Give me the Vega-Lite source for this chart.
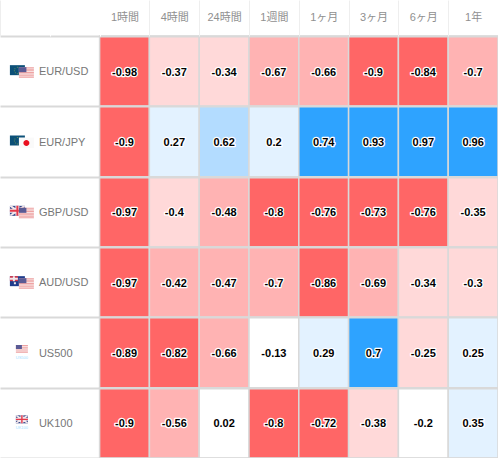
{
"$schema":"https://vega.github.io/schema/vega-lite/v6.json",
"width":498,"height":422,
"autosize":{"type":"none"},
"padding":{"top":36,"left":0,"right":0,"bottom":0},
"background":"white",
"config":{"view":{"stroke":null},"font":"Liberation Sans, Noto Sans CJK JP"},
"datasets":{
"cells":[
{"pair":"EUR/USD","col":"1時間","v":-0.98},{"pair":"EUR/USD","col":"4時間","v":-0.37},{"pair":"EUR/USD","col":"24時間","v":-0.34},{"pair":"EUR/USD","col":"1週間","v":-0.67},{"pair":"EUR/USD","col":"1ヶ月","v":-0.66},{"pair":"EUR/USD","col":"3ヶ月","v":-0.9},{"pair":"EUR/USD","col":"6ヶ月","v":-0.84},{"pair":"EUR/USD","col":"1年","v":-0.7},
{"pair":"EUR/JPY","col":"1時間","v":-0.9},{"pair":"EUR/JPY","col":"4時間","v":0.27},{"pair":"EUR/JPY","col":"24時間","v":0.62},{"pair":"EUR/JPY","col":"1週間","v":0.2},{"pair":"EUR/JPY","col":"1ヶ月","v":0.74},{"pair":"EUR/JPY","col":"3ヶ月","v":0.93},{"pair":"EUR/JPY","col":"6ヶ月","v":0.97},{"pair":"EUR/JPY","col":"1年","v":0.96},
{"pair":"GBP/USD","col":"1時間","v":-0.97},{"pair":"GBP/USD","col":"4時間","v":-0.4},{"pair":"GBP/USD","col":"24時間","v":-0.48},{"pair":"GBP/USD","col":"1週間","v":-0.8},{"pair":"GBP/USD","col":"1ヶ月","v":-0.76},{"pair":"GBP/USD","col":"3ヶ月","v":-0.73},{"pair":"GBP/USD","col":"6ヶ月","v":-0.76},{"pair":"GBP/USD","col":"1年","v":-0.35},
{"pair":"AUD/USD","col":"1時間","v":-0.97},{"pair":"AUD/USD","col":"4時間","v":-0.42},{"pair":"AUD/USD","col":"24時間","v":-0.47},{"pair":"AUD/USD","col":"1週間","v":-0.7},{"pair":"AUD/USD","col":"1ヶ月","v":-0.86},{"pair":"AUD/USD","col":"3ヶ月","v":-0.69},{"pair":"AUD/USD","col":"6ヶ月","v":-0.34},{"pair":"AUD/USD","col":"1年","v":-0.3},
{"pair":"US500","col":"1時間","v":-0.89},{"pair":"US500","col":"4時間","v":-0.82},{"pair":"US500","col":"24時間","v":-0.66},{"pair":"US500","col":"1週間","v":-0.13},{"pair":"US500","col":"1ヶ月","v":0.29},{"pair":"US500","col":"3ヶ月","v":0.7},{"pair":"US500","col":"6ヶ月","v":-0.25},{"pair":"US500","col":"1年","v":0.25},
{"pair":"UK100","col":"1時間","v":-0.9},{"pair":"UK100","col":"4時間","v":-0.56},{"pair":"UK100","col":"24時間","v":0.02},{"pair":"UK100","col":"1週間","v":-0.8},{"pair":"UK100","col":"1ヶ月","v":-0.72},{"pair":"UK100","col":"3ヶ月","v":-0.38},{"pair":"UK100","col":"6ヶ月","v":-0.2},{"pair":"UK100","col":"1年","v":0.35}
],
"labels":[{"pair":"EUR/USD","col":"a"},{"pair":"EUR/JPY","col":"a"},{"pair":"GBP/USD","col":"a"},{"pair":"AUD/USD","col":"a"},{"pair":"US500","col":"a"},{"pair":"UK100","col":"a"}],
"tiny":[{"pair":"US500","col":"a","t":"US500"},{"pair":"UK100","col":"a","t":"UK100"}],
"flags":[
{"pair":"EUR/USD","col":"a","part":"eu_bg"},{"pair":"EUR/USD","col":"a","part":"eu_st"},{"pair":"EUR/USD","col":"a","part":"us_w"},{"pair":"EUR/USD","col":"a","part":"us_r"},{"pair":"EUR/USD","col":"a","part":"us_c"},
{"pair":"EUR/JPY","col":"a","part":"eu_bg"},{"pair":"EUR/JPY","col":"a","part":"eu_st"},{"pair":"EUR/JPY","col":"a","part":"jp_w"},{"pair":"EUR/JPY","col":"a","part":"jp_r"},
{"pair":"GBP/USD","col":"a","part":"gb_b"},{"pair":"GBP/USD","col":"a","part":"gb_w"},{"pair":"GBP/USD","col":"a","part":"gb_r"},{"pair":"GBP/USD","col":"a","part":"us_w"},{"pair":"GBP/USD","col":"a","part":"us_r"},{"pair":"GBP/USD","col":"a","part":"us_c"},
{"pair":"AUD/USD","col":"a","part":"au_b"},{"pair":"AUD/USD","col":"a","part":"au_r"},{"pair":"AUD/USD","col":"a","part":"au_w"},{"pair":"AUD/USD","col":"a","part":"us_w"},{"pair":"AUD/USD","col":"a","part":"us_r"},{"pair":"AUD/USD","col":"a","part":"us_c"},
{"pair":"US500","col":"a","part":"uss_w"},{"pair":"US500","col":"a","part":"uss_r"},{"pair":"US500","col":"a","part":"uss_c"},
{"pair":"UK100","col":"a","part":"gbs_b"},{"pair":"UK100","col":"a","part":"gbs_w"},{"pair":"UK100","col":"a","part":"gbs_r"}
]
},
"encoding":{
"x":{"field":"col","type":"nominal","sort":null,
"scale":{"type":"band","domain":["a","b","1時間","4時間","24時間","1週間","1ヶ月","3ヶ月","6ヶ月","1年"],"paddingInner":0,"paddingOuter":0},
"axis":{"orient":"top","title":null,"domain":false,"tickBand":"extent","tickSize":36,"tickColor":{"condition":{"test":"datum.value=='a'||datum.value=='b'","value":"#ffffff"},"value":"#eeeeee"},"tickWidth":1,"labelPadding":-17,"labelAngle":0,"labelColor":"#909090","labelFontSize":11,"labelFont":"Liberation Sans, Noto Sans CJK JP","labelExpr":"datum.value=='a'||datum.value=='b'?'':datum.value","labelBaseline":"middle"}},
"y":{"field":"pair","type":"nominal","sort":null,
"scale":{"type":"band","domain":["EUR/USD","EUR/JPY","GBP/USD","AUD/USD","US500","UK100"],"paddingInner":0,"paddingOuter":0},
"axis":{"title":null,"domain":false,"ticks":false,"labels":false,"grid":true,"tickBand":"extent","gridColor":"#d9d9d9","gridWidth":2}}
},
"layer":[
{"data":{"name":"cells"},"mark":{"type":"rect","stroke":"#d9d9d9","strokeWidth":1.5},
"encoding":{"color":{"field":"v","type":"quantitative","legend":null,"scale":{"type":"threshold","domain":[-0.7,-0.4,-0.2,0.2,0.4,0.7],"range":["#ff6666","#ffb3b3","#ffd9d9","#ffffff","#e3f2ff","#b3dcff","#2ea3ff"]}}}},
{"data":{"name":"cells"},"mark":{"type":"text","font":"Liberation Sans","fontSize":11,"fontWeight":"bold","stroke":"white","strokeWidth":2.5,"strokeJoin":"round","fill":"white","dy":1.5},
"encoding":{"text":{"field":"v","type":"nominal"}}},
{"data":{"name":"cells"},"mark":{"type":"text","font":"Liberation Sans","fontSize":11,"fontWeight":"bold","fill":"black","dy":1.5},
"encoding":{"text":{"field":"v","type":"nominal"}}},
{"data":{"name":"labels"},"mark":{"type":"text","font":"Liberation Sans","fontSize":11,"fill":"#777777","align":"left","dx":14,"dy":1},
"encoding":{"text":{"field":"pair","type":"nominal"}}},
{"data":{"name":"tiny"},"mark":{"type":"text","font":"Liberation Sans","fontSize":4,"fill":"#9fe0ff","align":"center","dx":-3,"dy":5},
"encoding":{"text":{"field":"t","type":"nominal"}}},
{"data":{"name":"flags"},"mark":{"type":"point","filled":true,"opacity":1,"size":4,"strokeWidth":0},
"encoding":{
"shape":{"field":"part","type":"nominal","legend":null,"scale":{
"domain":["eu_bg","eu_st","us_w","us_r","us_c","jp_w","jp_r","gb_b","gb_w","gb_r","au_b","au_r","au_w","uss_w","uss_r","uss_c","gbs_b","gbs_w","gbs_r"],
"range":[
"M-15 -6H0V4H-15Z",
"M-8 -4.5h1.2v1h-1.2Z M-10.5 -3h1v1h-1Z M-5.5 -3h1v1h-1Z M-11 -1h1v1h-1Z M-5 -1h1v1h-1Z M-10 1h1v1h-1Z M-6 1h1v1h-1Z M-8 2h1.2v1h-1.2Z",
"M-6 -4H9V6.5H-6Z",
"M-6 -4H9V-3H-6Z M-6 -2.4H9V-1.4H-6Z M-6 -0.8H9V0.2H-6Z M-6 0.8H9V1.8H-6Z M-6 2.4H9V3.4H-6Z M-6 4H9V5H-6Z M-6 5.5H9V6.5H-6Z",
"M-6 -4H1.5V1H-6Z",
"M-6 -4H9V6.5H-6Z",
"M-1.5 1.5a3 3 0 1 0 6 0a3 3 0 1 0 -6 0Z",
"M-15 -6H0V4H-15Z",
"M-15 -6H-13L0 3V4H-2L-15 -5Z M0 -6V-5L-13 4H-15V3L-2 -6Z M-9.5 -6H-5.5V4H-9.5Z M-15 -3H0V1H-15Z",
"M-8.5 -6H-6.5V4H-8.5Z M-15 -2H0V0H-15Z",
"M-15 -6H0V4H-15Z",
"M-15 -6H-7V-1H-15Z",
"M-12 -6H-10V-1H-12Z M-15 -4.5H-7V-2.5H-15Z M-11 0h2v2h-2Z M-4 -4h1v1h-1Z M-2 -2h1v1h-1Z M-4 1h1v1h-1Z",
"M-9 -7.5H3V0.5H-9Z",
"M-9 -7.5H3V-6.5H-9Z M-9 -5.7H3V-4.7H-9Z M-9 -3.9H3V-2.9H-9Z M-9 -2.1H3V-1.1H-9Z M-9 -0.3H3V0.5H-9Z",
"M-9 -7.5H-3V-3.5H-9Z",
"M-9 -7.5H3V0.5H-9Z",
"M-9 -7.5H-7.5L3 -0.5V0.5H1.5L-9 -6.5Z M3 -7.5V-6.5L-7.5 0.5H-9V-0.5L1.5 -7.5Z M-4.5 -7.5H-1.5V0.5H-4.5Z M-9 -5H3V-2H-9Z",
"M-3.7 -7.5H-2.3V0.5H-3.7Z M-9 -4.2H3V-2.8H-9Z"
]}},
"color":{"field":"part","type":"nominal","legend":null,"scale":{
"domain":["eu_bg","eu_st","us_w","us_r","us_c","jp_w","jp_r","gb_b","gb_w","gb_r","au_b","au_r","au_w","uss_w","uss_r","uss_c","gbs_b","gbs_w","gbs_r"],
"range":["#0c5078","#5d8a5a","#fbf3f3","#eea3a3","#5a5a94","#fafafa","#ea1020","#33478a","#f3e6ea","#e5384a","#1f3c8c","#d8384a","#f0e8ec","#fbf3f3","#eea3a3","#5a5a94","#33478a","#f3e6ea","#e5384a"]}}
}}
],
"resolve":{"scale":{"color":"independent"}}
}
